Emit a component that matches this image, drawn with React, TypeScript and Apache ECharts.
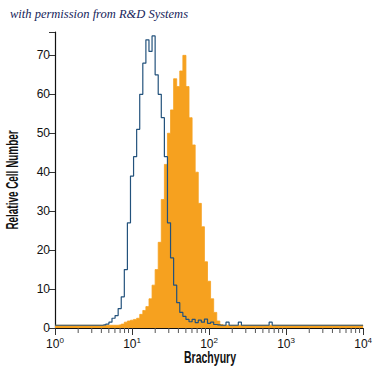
import React, { useEffect, useRef } from "react";
import * as echarts from "echarts";

// Histogram bins: log10 intensity of first bin and bin width (log units)
const binStart = 0.56;
const binStep = 0.04;
const xRange = [0, 4];
const baselineCount = 0.7;

// Isotype control (blue outline)
const blueCounts = [
  0.7, 0.7, 0.8, 1.0, 1.5, 2.5, 3.2, 5, 8, 15, 27, 39, 44, 51, 60, 68, 74, 71, 75, 65,
  60, 54, 44, 27, 18, 11, 6.5, 4, 3, 2.2, 1.6, 2.2, 1.4, 2.0, 1.5, 2.3, 1.2, 1.5, 0.9, 0.8,
  0.7, 0.7, 1.5, 0.7, 0.7, 0.7, 1.5, 0.7, 0.7, 0.7, 0.7, 0.7, 0.7, 0.7, 0.7, 0.7, 1.5, 0.7,
];

// Brachyury staining (orange filled)
const orangeCounts = [
  0.7, 0.7, 0.7, 0.7, 0.7, 0.7, 0.7, 0.8, 1.0, 1.5, 1.8, 2, 2.2, 2.5, 3.5, 4.5, 5.5, 7.5, 11, 15,
  22, 33, 42, 50, 56, 64, 62, 66, 70, 62, 54, 47, 40, 32, 26, 17, 12, 7.5, 4, 1.8, 0.9, 0.7,
];

const xTickExponents = ["0", "1", "2", "3", "4"];
const yTicks = [0, 10, 20, 30, 40, 50, 60, 70];
const minorMultipliers = [2, 3, 4, 5, 6, 7, 8, 9];

const sans = "'Liberation Sans', 'Roboto', sans-serif";

function toSeries(counts: number[]) {
  const pts: [number, number][] = [[xRange[0], baselineCount]];
  counts.forEach((c, i) => pts.push([binStart + binStep * i, c]));
  pts.push([xRange[1], baselineCount]);
  return pts;
}

export default function App() {
  const ref = useRef<HTMLDivElement>(null);
  useEffect(() => {
    document.body.style.margin = "0";
    document.documentElement.style.overflow = "hidden";
    if (!ref.current) return;
    const chart = echarts.init(ref.current, null, { renderer: "svg" });
    const minorTicks: number[] = [];
    for (let d = 0; d < 4; d++) minorMultipliers.forEach((m) => minorTicks.push(d + Math.log10(m)));

    chart.setOption({
      animation: false,
      backgroundColor: "#ffffff",
      grid: { left: 55, right: 11, top: 32, bottom: 47, containLabel: false },
      graphic: [
        {
          type: "text",
          left: 10,
          top: 7,
          style: {
            text: "with permission from R&D Systems",
            font: "italic 12.5px 'Liberation Serif', serif",
            fill: "#16245a",
          },
        },
        {
          type: "text",
          x: 13,
          y: 180,
          rotation: Math.PI / 2,
          scaleX: 0.62,
          style: {
            text: "Relative Cell Number",
            font: "bold 16px " + sans,
            fill: "#111",
            align: "center",
            verticalAlign: "middle",
          },
        },
        {
          type: "text",
          x: 210,
          y: 357,
          scaleX: 0.62,
          style: {
            text: "Brachyury",
            font: "bold 17px " + sans,
            fill: "#111",
            align: "center",
            verticalAlign: "middle",
          },
        },
      ],
      xAxis: {
        type: "value",
        min: 0,
        max: 4,
        interval: 1,
        axisLine: { lineStyle: { color: "#111", width: 1.2 } },
        axisTick: { show: true, inside: false, length: 7, lineStyle: { color: "#333" } },
        axisLabel: {
          formatter: (v: number) => "{b|10}{s|" + (xTickExponents[Math.round(v)] ?? "") + "}",
          margin: 8,
          rich: {
            b: { fontFamily: sans, fontSize: 12, color: "#111", lineHeight: 14, verticalAlign: "bottom" },
            s: { fontFamily: sans, fontSize: 8, color: "#111", lineHeight: 14, verticalAlign: "top", padding: [0, 0, 5, 0] },
          },
        },
        splitLine: { show: false },
      },
      yAxis: {
        type: "value",
        min: 0,
        max: 76,
        interval: 10,
        axisLine: { show: true, lineStyle: { color: "#111", width: 1.2 } },
        axisTick: { show: true, inside: false, length: 6, lineStyle: { color: "#333" } },
        axisLabel: {
          formatter: (v: number) => (yTicks.includes(v) ? String(v) : ""),
          fontFamily: sans,
          fontSize: 12,
          color: "#111",
          margin: 5,
        },
        splitLine: { show: false },
      },
      series: [
        {
          type: "line",
          name: "Brachyury",
          step: "middle",
          data: toSeries(orangeCounts),
          symbol: "none",
          lineStyle: { color: "#F6A11F", width: 0.8 },
          areaStyle: { color: "#F6A11F", opacity: 1 },
          z: 2,
        },
        {
          type: "line",
          name: "Isotype",
          step: "middle",
          data: toSeries(blueCounts),
          symbol: "none",
          lineStyle: { color: "#23527C", width: 1.2 },
          z: 3,
        },
        {
          type: "custom",
          data: minorTicks.map((t) => [t, 0]),
          clip: false,
          silent: true,
          z: 4,
          renderItem: (params: any, api: any) => {
            const p = api.coord([api.value(0), 0]);
            return {
              type: "line",
              shape: { x1: p[0], y1: p[1], x2: p[0], y2: p[1] + 5 },
              style: { stroke: "#555", lineWidth: 1 },
            };
          },
        },
      ],
    });
    return () => chart.dispose();
  }, []);
  return <div ref={ref} style={{ width: 375, height: 375 }} />;
}
